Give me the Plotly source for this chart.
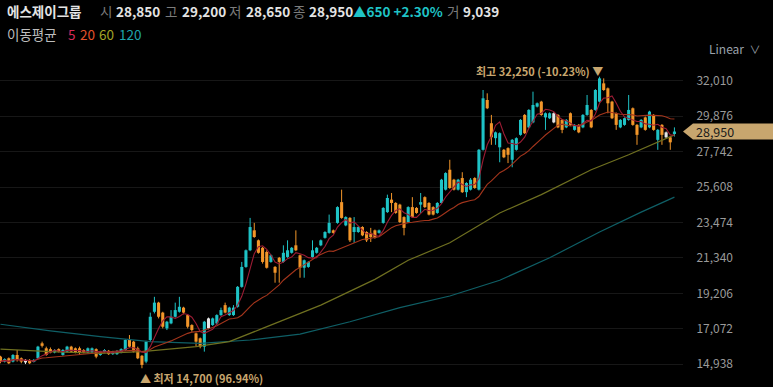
import plotly.graph_objects as go
import pandas as pd

# ---------------- data ----------------
opens = [15400,15100,15300,15100,15500,15300,15200,15200,15100,15300,
         16200,15900,15850,15650,15850,15500,15700,16000,15900,15900,
         15800,15650,15650,15850,15500,15700,15750,15550,15550,15650,
         15800,16400,16300,15900,15450,15100,16400,18100,18650,18050,
         17100,17400,17800,18100,18350,17900,17300,16800,16500,16000,
         17100,17300,17400,17900,18500,17900,17900,18400,19600,20800,
         21800,23000,22400,21950,21700,21100,20800,21350,21100,21400,
         21650,22100,21500,20750,20800,21400,21650,22100,22550,22850,
         23000,23450,24700,23300,23750,22900,22900,23200,22900,22850,
         23000,22850,23450,24100,24850,24650,24550,23800,23500,24400,
         24350,24550,25000,24650,24400,24050,24650,25450,26650,26050,
         25450,26150,25300,25450,26150,25450,27850,30850,29450,28550,
         28000,27850,27950,27250,27850,28750,29950,29200,29500,30450,
         30750,29800,29750,29500,29950,29650,29200,30050,29050,29350,
         29200,29950,30250,30250,30750,31850,31550,30750,30050,29200,
         29350,29650,30350,29350,29200,29800,29200,29950,28450,29350,
         28900,28600,28850]
highs = [15450,15300,15350,15550,15800,15350,15250,15250,15250,16050,
         16300,16000,15950,15850,15900,15850,16050,16050,15950,16000,
         15850,15950,15950,15900,15750,15850,15800,15750,15800,15900,
         16450,16700,16350,16000,15500,16350,18050,19000,18700,18100,
         17550,18200,18650,19000,18400,17950,17350,16850,16550,17550,
         17750,17750,17950,18350,18650,18400,18500,19650,21100,21850,
         23750,23450,22450,22000,21800,21550,20850,21400,22100,22400,
         22000,23000,21550,21250,21150,22400,22000,22450,22950,23950,
         23050,24450,25450,23850,23800,23800,23250,23250,22950,23150,
         23050,23050,24400,25150,25250,24700,24600,23850,24450,25000,
         24400,25250,25050,24700,24450,24700,26100,26500,27250,26100,
         26100,26500,25900,26150,26200,27900,31450,31250,29950,28950,
         28900,27900,28000,28500,28600,29700,30000,30300,31350,30700,
         30800,30100,30100,30100,30000,29700,29700,30100,29400,29400,
         30000,31150,30300,31500,32250,32150,31600,30800,30100,29700,
         29800,31150,30400,29400,29700,29850,30200,30000,29100,29400,
         28950,28650,29200]
lows = [15000,15050,14950,15050,15100,15000,14950,14950,15050,15250,
        15950,15450,15600,15600,15650,15450,15650,15650,15600,15500,
        15600,15600,15600,15300,15450,15650,15500,15500,15500,15600,
        15750,15950,15650,15250,14700,15000,16300,18000,17700,17100,
        17000,17350,17750,18050,17950,17100,16900,16000,15900,15700,
        17050,17250,17300,17850,18000,17850,17850,18350,19550,20750,
        21750,22550,21600,21000,20700,21050,19850,19850,21050,21350,
        21600,21750,20150,20150,20750,21350,21600,22050,22500,22800,
        22800,23400,23700,23250,22300,22250,22850,22650,22300,22300,
        22500,22800,23400,24050,24100,24000,23450,22700,23450,23750,
        24000,24050,24350,23900,23900,24000,24600,25400,25500,25400,
        25400,25250,25000,25400,25500,25400,27800,30300,28150,28150,
        27100,27350,27050,26800,27800,28700,28800,29150,29450,30400,
        29900,29050,29700,29450,29150,28850,29150,29300,29000,28850,
        29150,29900,29150,30200,30700,31400,30050,29700,29050,29150,
        29300,29600,29300,28150,29150,29000,29150,29000,27850,28150,
        28550,27850,28650]
closes = [15100,15250,15000,15500,15200,15100,15050,15000,15200,16000,
          16050,15500,15650,15800,15700,15800,16000,15700,15650,15650,
          15650,15900,15900,15400,15700,15800,15550,15700,15700,15850,
          16400,16000,15700,15300,14900,16300,17800,18650,17800,17200,
          17500,17800,18200,18400,18050,17200,17000,16300,16000,17500,
          17700,17700,17900,18200,18050,18350,18350,19600,20800,21800,
          23200,22600,21650,21100,20750,21500,20450,21100,21650,21800,
          21950,21800,20750,21200,21100,21800,21950,22400,22900,23450,
          22850,24400,23750,23800,22400,23200,23200,22700,22400,22600,
          22550,23000,24350,24950,24650,24050,23500,23150,24400,23800,
          24050,24700,24400,23950,23950,24650,26050,26450,25550,25450,
          26050,25300,25850,26050,25550,27850,30950,30350,28600,28900,
          28850,27400,27550,28450,28550,29650,28850,30250,30550,30650,
          29950,30050,30050,30050,29200,29050,29650,29350,29350,28900,
          29950,30550,29200,31450,32150,31450,30650,29750,29350,29650,
          29750,30250,29350,28750,29650,29050,30150,29050,29050,28750,
          28600,28300,28950]
flat_idx = [6, 50, 133, 160]          # candles drawn white (unchanged)
last_volume = 9039

ma60_idx = [0, 12, 24, 34, 47, 55, 63, 67, 77, 90, 98, 108, 120, 130, 142, 151, 162]
ma60_val = [15850, 15700, 15600, 15700, 16000, 16300, 17100, 17500, 18500, 20050,
            21200, 22250, 24050, 25150, 26650, 27550, 28750]
ma120_idx = [0, 12, 24, 36, 48, 60, 72, 84, 96, 108, 120, 132, 144, 154, 162]
ma120_val = [17350, 16950, 16600, 16300, 16200, 16400, 16750, 17500, 18350, 19050,
             20000, 21350, 22900, 24100, 25000]

ytick_vals = [14938, 17072, 19206, 21340, 23474, 25608, 27742, 29876, 32010]

# ---------------- styling ----------------
FONT = "Noto Sans CJK KR"
UP = '#1fc3c6'
DN = '#f2962a'
FLAT = '#e6e6e6'
TAN = '#c8a66e'
W, H = 773, 387
PLOT_W = 683
Y_RANGE = [13571, 36868]
X_RANGE = [-0.12, 164.06]

n = len(closes)
idx = list(range(n))
s = pd.Series(closes, dtype=float)
ma5 = s.rolling(5, min_periods=1).mean()
ma20 = s.rolling(20, min_periods=1).mean()

colors = []
for i in idx:
    if i in flat_idx:
        colors.append(FLAT)
    elif closes[i] >= opens[i]:
        colors.append(UP)
    else:
        colors.append(DN)

fig = go.Figure()

# wicks
for col in (UP, DN, FLAT):
    xs, ys = [], []
    for i in idx:
        if colors[i] == col:
            xs += [i, i, None]
            ys += [lows[i], highs[i], None]
    fig.add_trace(go.Scatter(x=xs, y=ys, mode='lines', line=dict(color=col, width=1),
                             hoverinfo='skip', showlegend=False))

# bodies
base = [min(o, c) for o, c in zip(opens, closes)]
body = [max(abs(c - o), 60) for o, c in zip(opens, closes)]
fig.add_trace(go.Bar(x=idx, y=body, base=base, width=0.74,
                     marker=dict(color=colors, line=dict(width=0)),
                     hoverinfo='skip', showlegend=False))

# moving averages
fig.add_trace(go.Scatter(x=ma120_idx, y=ma120_val, mode='lines',
                         line=dict(color='#0f5f66', width=1.2), hoverinfo='skip'))
fig.add_trace(go.Scatter(x=ma60_idx, y=ma60_val, mode='lines',
                         line=dict(color='#6f7020', width=1.2), hoverinfo='skip'))
fig.add_trace(go.Scatter(x=idx, y=ma20, mode='lines',
                         line=dict(color='#a3351c', width=1.1), hoverinfo='skip'))
fig.add_trace(go.Scatter(x=idx, y=ma5, mode='lines',
                         line=dict(color='#9c1c34', width=1.1), hoverinfo='skip'))


def px_x(x):
    return x / PLOT_W


def px_y(y):
    return 1 - y / H


ann = []


def text_at(x, y, text, color, size=13, weight='normal'):
    ann.append(dict(x=px_x(x), y=px_y(y), xref='paper', yref='paper', text=text,
                    showarrow=False, xanchor='left', yanchor='middle',
                    font=dict(family=FONT, size=size, color=color, weight=weight),
                    borderpad=0))


o, hi, lo, c = opens[-1], highs[-1], lows[-1], closes[-1]
chg = c - closes[-2]
pct = chg / closes[-2] * 100
GREY = '#7c7c7c'
WHITE = '#e4e4e4'
text_at(6, 11, '에스제이그룹', WHITE, 13.5, 'bold')
text_at(99, 11, '시', GREY, 13.5)
text_at(115, 11, f'{o:,}', WHITE, 13.5, 'bold')
text_at(164, 11, '고', GREY, 13.5)
text_at(181, 11, f'{hi:,}', WHITE, 13.5, 'bold')
text_at(228, 11, '저', GREY, 13.5)
text_at(245, 11, f'{lo:,}', WHITE, 13.5, 'bold')
text_at(292, 11, '종', GREY, 13.5)
text_at(308, 11, f'{c:,}', WHITE, 13.5, 'bold')
text_at(352, 11, f'▲{chg:,} +{pct:.2f}%', UP, 13.5, 'bold')
text_at(446, 11, '거', GREY, 13.5)
text_at(462, 11, f'{last_volume:,}', WHITE, 13.5, 'bold')

text_at(6, 34, '이동평균', '#bdbdbd', 13.5)
text_at(67, 34, '5', '#d42a58', 13.5)
text_at(79, 34, '20', '#e2522a', 13.5)
text_at(98, 34, '60', '#a3a326', 13.5)
text_at(118, 34, '120', '#1fa3ab', 13.5)

ann.append(dict(x=px_x(707), y=px_y(48), xref='paper', yref='paper',
                text='Linear  <span style="font-size:11px">∨</span>', showarrow=False,
                xanchor='left', yanchor='middle',
                font=dict(family=FONT, size=12, color='#9aa0aa')))

# max / min annotations
imax = max(idx, key=lambda i: highs[i])
imin = min(idx, key=lambda i: lows[i])
vmax, vmin = highs[imax], lows[imin]
ann.append(dict(x=imax, y=vmax, xref='x', yref='y',
                text=f'최고 {vmax:,} ({(c - vmax) / vmax * 100:.2f}%) ▼',
                showarrow=False, xanchor='right', yanchor='middle', xshift=5, yshift=6,
                font=dict(family=FONT, size=11, color=TAN, weight='bold')))
ann.append(dict(x=imin, y=vmin, xref='x', yref='y',
                text=f'▲ 최저 {vmin:,} ({(c - vmin) / vmin * 100:.2f}%)',
                showarrow=False, xanchor='left', yanchor='middle', xshift=-4, yshift=-10,
                font=dict(family=FONT, size=11, color=TAN, weight='bold')))

# current price tag
per_px = (Y_RANGE[1] - Y_RANGE[0]) / H
half = 8 * per_px
x_tip = 1.0
x_box = (PLOT_W + 10) / PLOT_W
x_end = W / PLOT_W + 0.01
path = (f'M {x_tip},{c} L {x_box},{c + half} L {x_end},{c + half} '
        f'L {x_end},{c - half} L {x_box},{c - half} Z')
shapes = [dict(type='path', path=path, xref='paper', yref='y',
               fillcolor=TAN, line=dict(width=0), layer='above')]
ann.append(dict(x=(PLOT_W + 12) / PLOT_W, y=c, xref='paper', yref='y',
                text=f'{c:,}', showarrow=False, xanchor='left', yanchor='middle',
                font=dict(family=FONT, size=12.5, color='#1a1a1a'), borderpad=0))

fig.update_layout(
    width=W, height=H,
    margin=dict(l=0, r=W - PLOT_W, t=0, b=0),
    paper_bgcolor='#000000', plot_bgcolor='#000000',
    showlegend=False, barmode='overlay', hovermode=False,
    font=dict(family=FONT),
    xaxis=dict(range=X_RANGE, visible=False, fixedrange=True),
    yaxis=dict(range=Y_RANGE, side='right', tickvals=ytick_vals,
               ticktext=[f'{v:,}' for v in ytick_vals],
               showgrid=True, gridcolor='#171717', gridwidth=1, zeroline=False,
               ticks='outside', ticklen=10, tickcolor='rgba(0,0,0,0)',
               tickfont=dict(family=FONT, size=12, color='#9a9a9a'),
               showline=False, fixedrange=True),
    annotations=ann, shapes=shapes,
)

fig.write_html("out.html")
